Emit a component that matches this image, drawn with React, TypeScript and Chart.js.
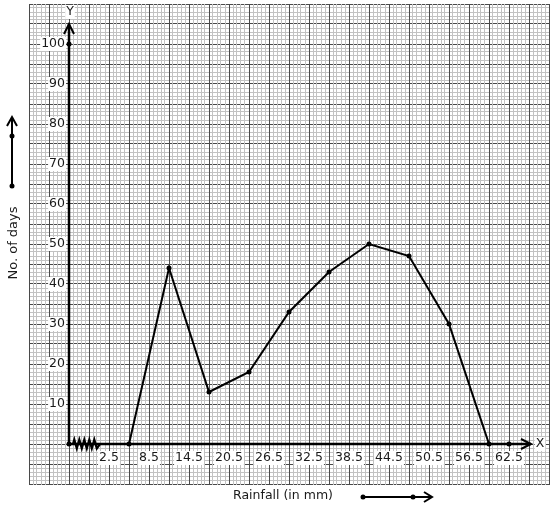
import React, { useEffect, useRef } from 'react';
import { Chart, registerables } from 'chart.js';
Chart.register(...registerables);

// ---- data ----
const classMarks = [5.5, 11.5, 17.5, 23.5, 29.5, 35.5, 41.5, 47.5, 53.5, 59.5];
const days = [0, 44, 13, 18, 33, 43, 50, 47, 30, 0];
const xTickValues = [2.5, 8.5, 14.5, 20.5, 26.5, 32.5, 38.5, 44.5, 50.5, 56.5, 62.5];
const xTickLabels = ['2.5', '8.5', '14.5', '20.5', '26.5', '32.5', '38.5', '44.5', '50.5', '56.5', '62.5'];
const yTickValues = [10, 20, 30, 40, 50, 60, 70, 80, 90, 100];
const yTickLabels = ['10', '20', '30', '40', '50', '60', '70', '80', '90', '100'];
const markerX = [-3.5, 62.5, -3.5];
const markerY = [0, 0, 100];
const ORIGIN_X = -3.5;
const X_MIN = -9.5;
const X_MAX = 68.5;
const Y_MIN = -10;
const Y_MAX = 110;
const X_AXIS_END = 65.8;
const Y_AXIS_END = 105;
const xTitle = 'Rainfall (in mm)';
const yTitle = 'No. of days';

const FONT = '12.5px "DejaVu Sans", sans-serif';
const TITLE_FONT_X = '12.5px "DejaVu Sans", sans-serif';
const TITLE_FONT_Y = '13px "DejaVu Sans", sans-serif';
const TEXT = '#1a1a1a';

const snap = (p: number) => Math.round(p - 0.5) + 0.5;

const paperPlugin = {
  id: 'paper',
  beforeDatasetsDraw(chart: any) {
    const ctx: CanvasRenderingContext2D = chart.ctx;
    const xs = chart.scales.x;
    const ys = chart.scales.y;
    const { left, right, top, bottom } = chart.chartArea;
    ctx.save();
    ctx.fillStyle = '#fff';
    ctx.fillRect(left, top, right - left, bottom - top);
    ctx.lineWidth = 1;
    const hLine = (v: number) => {
      const p = snap(ys.getPixelForValue(v));
      ctx.beginPath();
      ctx.moveTo(left, p);
      ctx.lineTo(right + 1, p);
      ctx.stroke();
    };
    const vLine = (v: number) => {
      const p = snap(xs.getPixelForValue(v));
      ctx.beginPath();
      ctx.moveTo(p, top);
      ctx.lineTo(p, bottom + 1);
      ctx.stroke();
    };
    const nY = Math.round(Y_MAX - Y_MIN);
    const nX = Math.round((X_MAX - X_MIN) / 0.6);
    ctx.strokeStyle = '#c2c2c2';
    for (let i = 0; i <= nY; i++) if (i % 5 !== 0) hLine(Y_MIN + i);
    ctx.strokeStyle = '#4a4a4a';
    for (let i = 0; i <= nY; i += 5) hLine(Y_MIN + i);
    ctx.strokeStyle = '#c2c2c2';
    for (let i = 0; i <= nX; i++) if (i % 5 !== 0) vLine(X_MIN + i * 0.6);
    ctx.strokeStyle = '#4a4a4a';
    for (let i = 0; i <= nX; i += 5) vLine(X_MIN + i * 0.6);

    const x0 = xs.getPixelForValue(ORIGIN_X);
    const y0 = ys.getPixelForValue(0);
    const xEnd = xs.getPixelForValue(X_AXIS_END);
    const yEnd = ys.getPixelForValue(Y_AXIS_END);

    // labels with white backgrounds
    ctx.font = FONT;
    ctx.textBaseline = 'middle';
    yTickValues.forEach((v, i) => {
      const t = yTickLabels[i];
      const w = ctx.measureText(t).width;
      const py = ys.getPixelForValue(v);
      const xr = x0 - 4;
      ctx.fillStyle = '#fff';
      ctx.fillRect(xr - w - 1, py - 7, w + 2, 14);
      ctx.fillStyle = TEXT;
      ctx.textAlign = 'right';
      ctx.fillText(t, xr, py);
    });
    xTickValues.forEach((v, i) => {
      const t = xTickLabels[i];
      const w = ctx.measureText(t).width;
      const px = xs.getPixelForValue(v);
      const py = y0 + 14;
      ctx.fillStyle = '#fff';
      ctx.fillRect(px - w / 2 - 1, py - 7, w + 2, 14);
      ctx.fillStyle = TEXT;
      ctx.textAlign = 'center';
      ctx.fillText(t, px, py);
    });
    // axis names
    const drawBoxed = (t: string, px: number, py: number) => {
      const w = ctx.measureText(t).width;
      ctx.fillStyle = '#fff';
      ctx.fillRect(px - w / 2 - 1, py - 7, w + 2, 14);
      ctx.fillStyle = TEXT;
      ctx.textAlign = 'center';
      ctx.fillText(t, px, py);
    };
    drawBoxed('Y', x0 + 1, top + 8);
    drawBoxed('X', xEnd + 9, y0);

    // axes
    ctx.strokeStyle = '#000';
    ctx.lineWidth = 2.5;
    ctx.beginPath();
    ctx.moveTo(x0, y0);
    ctx.lineTo(x0, yEnd);
    ctx.moveTo(x0, y0);
    ctx.lineTo(xEnd, y0);
    ctx.stroke();
    ctx.lineWidth = 2;
    ctx.beginPath();
    ctx.moveTo(x0 - 5, yEnd + 10);
    ctx.lineTo(x0, yEnd);
    ctx.lineTo(x0 + 5, yEnd + 10);
    ctx.moveTo(xEnd - 10, y0 - 5);
    ctx.lineTo(xEnd, y0);
    ctx.lineTo(xEnd - 10, y0 + 5);
    ctx.stroke();
    // zigzag (axis break)
    ctx.lineWidth = 2.2;
    ctx.beginPath();
    const zs = x0 + 4;
    ctx.moveTo(zs, y0);
    for (let k = 0; k < 10; k++) {
      ctx.lineTo(zs + 1.3 + k * 2.5, k % 2 === 0 ? y0 - 4.5 : y0 + 4.5);
    }
    ctx.lineTo(zs + 27, y0);
    ctx.stroke();
    ctx.restore();
  },
  afterDraw(chart: any) {
    const ctx: CanvasRenderingContext2D = chart.ctx;
    ctx.save();
    ctx.fillStyle = TEXT;
    ctx.textBaseline = 'middle';
    ctx.textAlign = 'center';
    ctx.font = TITLE_FONT_X;
    ctx.fillText(xTitle, 283, 496);
    ctx.save();
    ctx.font = TITLE_FONT_Y;
    ctx.translate(14, 243);
    ctx.rotate(-Math.PI / 2);
    ctx.fillText(yTitle, 0, 0);
    ctx.restore();
    ctx.strokeStyle = '#000';
    ctx.fillStyle = '#000';
    ctx.lineWidth = 2;
    // bottom arrow
    ctx.beginPath();
    ctx.moveTo(363, 497);
    ctx.lineTo(432, 497);
    ctx.moveTo(424, 492);
    ctx.lineTo(432, 497);
    ctx.lineTo(424, 502);
    ctx.stroke();
    [363, 413].forEach((x) => {
      ctx.beginPath();
      ctx.arc(x, 497, 2.5, 0, Math.PI * 2);
      ctx.fill();
    });
    // left arrow
    ctx.beginPath();
    ctx.moveTo(12, 186);
    ctx.lineTo(12, 117);
    ctx.moveTo(7, 126);
    ctx.lineTo(12, 117);
    ctx.lineTo(17, 126);
    ctx.stroke();
    [186, 136].forEach((y) => {
      ctx.beginPath();
      ctx.arc(12, y, 2.5, 0, Math.PI * 2);
      ctx.fill();
    });
    ctx.restore();
  },
};

export default function App() {
  const ref = useRef<HTMLCanvasElement>(null);
  useEffect(() => {
    if (!ref.current) return;
    const chart = new Chart(ref.current, {
      type: 'scatter',
      data: {
        datasets: [
          {
            data: classMarks.map((x, i) => ({ x, y: days[i] })),
            showLine: true,
            borderColor: '#000',
            borderWidth: 2,
            pointRadius: 2.5,
            pointBackgroundColor: '#000',
            pointBorderWidth: 0,
            tension: 0,
          },
          {
            data: markerX.map((x, i) => ({ x, y: markerY[i] })),
            showLine: false,
            pointRadius: 2.5,
            pointBackgroundColor: '#000',
            pointBorderWidth: 0,
          },
        ],
      },
      options: {
        responsive: false,
        animation: false,
        layout: { padding: { left: 29, top: 4, right: 5, bottom: 26 } },
        plugins: { legend: { display: false }, tooltip: { enabled: false } },
        scales: {
          x: { type: 'linear', min: X_MIN, max: X_MAX, display: false },
          y: { type: 'linear', min: Y_MIN, max: Y_MAX, display: false },
        },
      },
      plugins: [paperPlugin],
    });
    return () => chart.destroy();
  }, []);
  return (
    <div style={{ position: 'fixed', left: 0, top: 0, width: 554, height: 510, background: '#fff' }}>
      <canvas ref={ref} width={554} height={510} style={{ width: 554, height: 510, display: 'block' }} />
    </div>
  );
}
